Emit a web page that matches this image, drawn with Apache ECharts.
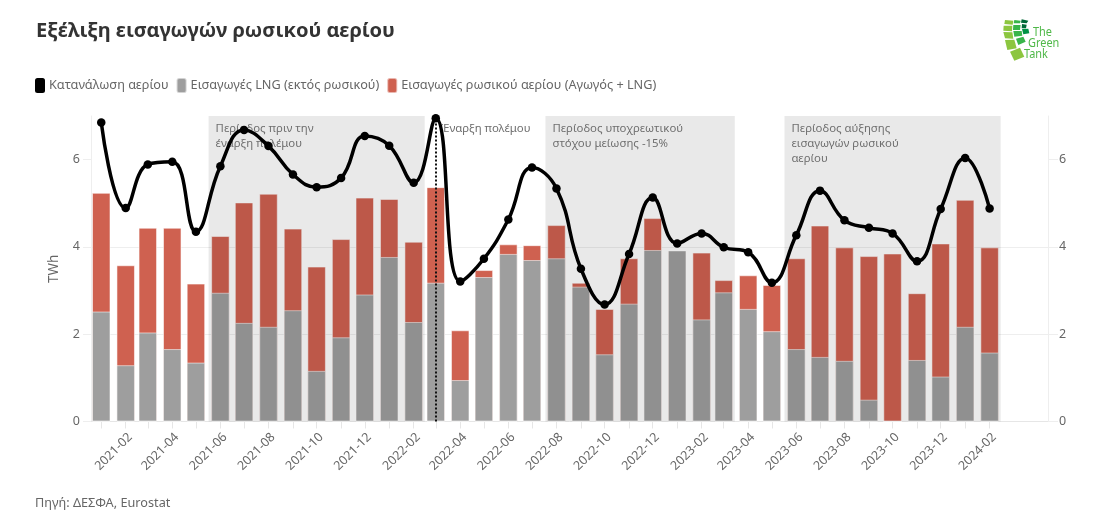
<!DOCTYPE html>
<html style="height: 100%">
  <head>
    <meta charset="utf-8" />
  </head>
  <body style="height: 100%; margin: 0; background: #fff">
    <div id="chart" style="width: 1095px; height: 521px"></div>
    <script src="https://cdn.jsdelivr.net/npm/echarts@6/dist/echarts.min.js"></script>
    <script type="text/javascript">
      const months = [
        "2021-01", "2021-02", "2021-03", "2021-04", "2021-05", "2021-06", "2021-07", "2021-08",
        "2021-09", "2021-10", "2021-11", "2021-12", "2022-01", "2022-02", "2022-03", "2022-04",
        "2022-05", "2022-06", "2022-07", "2022-08", "2022-09", "2022-10", "2022-11", "2022-12",
        "2023-01", "2023-02", "2023-03", "2023-04", "2023-05", "2023-06", "2023-07", "2023-08",
        "2023-09", "2023-10", "2023-11", "2023-12", "2024-01", "2024-02",
      ];
      // TWh
      const lngImports = [
        2.52, 1.29, 2.04, 1.66, 1.35, 2.95, 2.26, 2.17, 2.55, 1.16, 1.93, 2.91, 3.77, 2.28, 3.18, 0.95,
        3.31, 3.84, 3.70, 3.74, 3.09, 1.54, 2.70, 3.93, 3.92, 2.34, 2.96, 2.58, 2.07, 1.66, 1.48, 1.39,
        0.50, 0, 1.41, 1.03, 2.17, 1.58,
      ];
      const russianImports = [
        2.72, 2.29, 2.40, 2.78, 1.81, 1.30, 2.76, 3.05, 1.87, 2.39, 2.25, 2.22, 1.33, 1.84, 2.19, 1.14,
        0.16, 0.22, 0.34, 0.76, 0.09, 1.04, 1.04, 0.73, 0, 1.53, 0.28, 0.77, 1.06, 2.08, 3.01, 2.60,
        3.29, 3.85, 1.53, 3.05, 2.91, 2.41,
      ];
      const consumption = [
        6.85, 4.89, 5.89, 5.95, 4.35, 5.85, 6.68, 6.31, 5.66, 5.37, 5.58, 6.54, 6.32, 5.47, 6.95, 3.21,
        3.73, 4.63, 5.82, 5.34, 3.50, 2.68, 3.84, 5.13, 4.08, 4.31, 3.99, 3.88, 3.18, 4.27, 5.29, 4.61,
        4.44, 4.31, 3.67, 4.87, 6.04, 4.88,
      ];
      const yTicks = [0, 2, 4, 6];
      const warDate = "2022-03-01";
      const periods = [
        { from: "2021-05-17", to: "2022-02-15", text: "Περίοδος πριν την\nέναρξη πολέμου" },
        { from: "2022-07-18", to: "2023-03-15", text: "Περίοδος υποχρεωτικού\nστόχου μείωσης -15%" },
        { from: "2023-05-17", to: "2024-02-15", text: "Περίοδος αύξησης\nεισαγωγών ρωσικού\nαερίου" },
      ];

      const fontFamily = "Noto Sans";
      const textColor = "#666";
      const ruleColor = "#eeeeee";

      // x is a plain value axis in days, so months keep their real lengths
      function toDay(s) {
        const p = s.split("-").map(Number);
        return Date.UTC(p[0], p[1] - 1, p[2] || 1) / 864e5;
      }
      const monthDays = months.map(toDay);
      const pairs = (values) => values.map((v, i) => [monthDays[i], v]);
      // stack does not apply on a value x axis, so the red bar runs to the total and grey covers its foot
      const totals = lngImports.map((v, i) => +(v + russianImports[i]).toFixed(2));

      const barBase = {
        type: "bar",
        barWidth: 18.5,
        barGap: "-100%",
      };
      const barBorder = { borderColor: "rgba(255,255,255,0.55)", borderWidth: 1 };

      // logo, drawn in its own small coordinate box
      const logoBlocks = [
        ["#8cc63f", [135, 60, 160, 62, 158, 74, 133, 72]],
        ["#8cc63f", [131, 77, 157, 77, 156, 94, 130, 92]],
        ["#8cc63f", [130, 96, 157, 97, 160, 116, 135, 115]],
        ["#8cc63f", [135, 120, 163, 119, 170, 145, 142, 150]],
        ["#8cc63f", [150, 155, 180, 143, 193, 170, 163, 182]],
        ["#39b54a", [163, 60, 182, 62, 180, 70, 161, 70]],
        ["#39b54a", [160, 75, 182, 75, 180, 90, 159, 90]],
        ["#39b54a", [160, 93, 185, 93, 187, 107, 163, 110]],
        ["#39b54a", [168, 116, 190, 110, 197, 125, 175, 135]],
        ["#006837", [185, 58, 205, 62, 200, 70, 183, 68]],
        ["#006837", [186, 72, 200, 74, 198, 85, 185, 85]],
        ["#009245", [186, 87, 205, 86, 208, 100, 190, 103]],
      ];
      const logoShapes = logoBlocks.map(([color, pts]) => {
        const points = [];
        for (let i = 0; i < pts.length; i += 2) points.push([960 + pts[i] / 3, pts[i + 1] / 3]);
        return { type: "polygon", shape: { points }, style: { fill: color } };
      });
      const logoText = [
        ["The", 1033, 26],
        ["Green", 1028, 37],
        ["Tank", 1024, 48],
      ].map(([text, x, y]) => ({
        type: "text",
        x,
        y,
        scaleX: 0.84,
        style: { text, fill: "#4fb848", font: "13px 'Noto Sans'" },
      }));

      const myChart = echarts.init(document.getElementById("chart"));

      const option = {
        animation: false,
        textStyle: { fontFamily },
        title: [
          {
            text: "Εξέλιξη εισαγωγών ρωσικού αερίου",
            left: 31,
            top: 16,
            textStyle: { fontFamily, fontSize: 20.1, fontWeight: "bold", color: "#333" },
          },
          {
            text: "Πηγή: ΔΕΣΦΑ, Eurostat",
            left: 30,
            top: 492,
            textStyle: { fontFamily, fontSize: 12.7, fontWeight: "normal", color: textColor },
          },
        ],
        legend: {
          left: 30,
          top: 72,
          itemWidth: 10,
          itemHeight: 15,
          itemGap: 7,
          textStyle: { fontFamily, fontSize: 12.7, color: textColor, padding: [0, 0, 0, -1] },
          data: [
            { name: "Κατανάλωση αερίου", icon: "roundRect" },
            { name: "Εισαγωγές LNG (εκτός ρωσικού)", icon: "roundRect" },
            { name: "Εισαγωγές ρωσικού αερίου (Αγωγός + LNG)", icon: "roundRect" },
          ],
        },
        grid: { left: 91, right: 47, top: 116, bottom: 99.5 },
        xAxis: {
          type: "value",
          scale: true,
          min: toDay("2020-12-19"),
          max: toDay("2024-04-15"),
          axisLine: { show: true, onZero: false, lineStyle: { color: "#e6e6e6" } },
          axisTick: { show: true, length: 7, lineStyle: { color: "#e6e6e6" }, customValues: monthDays },
          splitLine: { show: false },
          axisLabel: {
            customValues: monthDays.filter((t, i) => i % 2 === 1),
            rotate: 45,
            margin: 9,
            verticalAlign: "top",
            fontSize: 12.5,
            color: textColor,
            hideOverlap: false,
            formatter: (v) => months[monthDays.indexOf(v)],
          },
        },
        yAxis: [
          {
            type: "value",
            min: 0,
            max: 7,
            name: "TWh",
            nameLocation: "middle",
            nameGap: 30,
            nameTextStyle: { fontSize: 13.5, color: textColor },
            axisLine: { show: true, lineStyle: { color: ruleColor } },
            axisTick: { show: true, length: 8, lineStyle: { color: ruleColor }, customValues: yTicks },
            axisLabel: { customValues: yTicks, fontSize: 12.5, color: textColor, margin: 11 },
            splitLine: { lineStyle: { color: ruleColor }, showMinLine: false, showMaxLine: false },
          },
          {
            type: "value",
            min: 0,
            max: 7,
            position: "right",
            axisLine: { show: true, lineStyle: { color: ruleColor } },
            axisTick: { show: true, length: 10, lineStyle: { color: ruleColor }, customValues: yTicks },
            axisLabel: { customValues: yTicks, fontSize: 12.5, color: textColor, margin: 11 },
            splitLine: { show: false },
          },
        ],
        series: [
          Object.assign({}, barBase, {
            name: "Εισαγωγές ρωσικού αερίου (Αγωγός + LNG)",
            data: pairs(totals),
            z: 2,
            itemStyle: Object.assign({ color: "#cf6150" }, barBorder),
          }),
          Object.assign({}, barBase, {
            name: "Εισαγωγές LNG (εκτός ρωσικού)",
            data: pairs(lngImports),
            z: 2.5,
            itemStyle: Object.assign({ color: "#9e9e9e" }, barBorder),
          }),
          {
            name: "Κατανάλωση αερίου",
            type: "line",
            data: pairs(consumption),
            smooth: 0.45,
            symbol: "circle",
            symbolSize: 8.5,
            lineStyle: { color: "#000", width: 3.5 },
            itemStyle: { color: "#000" },
            z: 6,
            markLine: {
              silent: true,
              symbol: "none",
              z: 5,
              label: { show: false },
              lineStyle: { color: "#111", type: "dotted", width: 2 },
              data: [{ xAxis: toDay(warDate) }],
            },
          },
          {
            // empty carrier for the shaded periods, they sit above the bars and below the line
            type: "line",
            data: [],
            z: 3,
            markArea: {
              silent: true,
              z: 3,
              label: {
                position: "insideTopLeft",
                distance: 7,
                offset: [0, -2],
                fontFamily,
                fontSize: 11.4,
                lineHeight: 15,
                color: "#6f6f6f",
              },
              itemStyle: { color: "rgba(0,0,0,0.085)" },
              data: periods
                .map((p) => [
                  { name: p.text, xAxis: toDay(p.from), yAxis: 7 },
                  { xAxis: toDay(p.to), yAxis: 0 },
                ])
                .concat([
                  [
                    {
                      name: "Έναρξη πολέμου",
                      xAxis: toDay("2022-02-27"),
                      yAxis: 7,
                      itemStyle: { color: "transparent" },
                    },
                    { xAxis: toDay("2022-07-01"), yAxis: 6 },
                  ],
                ]),
            },
          },
        ],
        graphic: logoShapes.concat(logoText),
      };

      if (option && typeof option === "object") {
        myChart.setOption(option);
      }
    </script>
  </body>
</html>
